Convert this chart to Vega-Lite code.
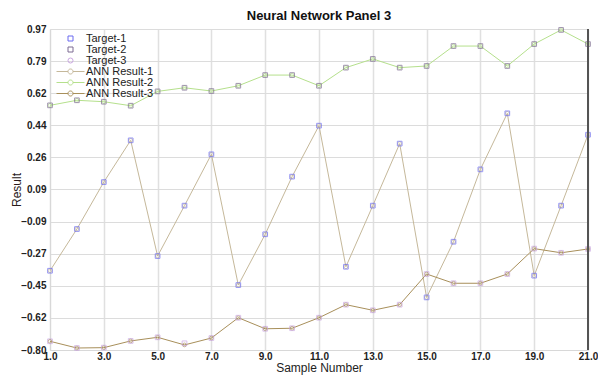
{
  "$schema": "https://vega.github.io/schema/vega-lite/v6.json",
  "width": 538,
  "height": 321,
  "autosize": "none",
  "padding": {"left": 50, "top": 29, "right": 10, "bottom": 26},
  "background": "white",
  "title": {"text": "Neural Network Panel 3", "fontSize": 13, "font": "Liberation Sans", "fontWeight": "bold", "color": "#111", "offset": 1},
  "config": {
    "view": {"stroke": null},
    "font": "Liberation Sans",
    "axis": {"labelFont": "Liberation Sans", "titleFont": "Liberation Sans"}
  },
  "data": {"values": [
    {"x": 1, "Target-1": -0.363, "Target-2": 0.549, "Target-3": -0.752, "ANN Result-1": -0.363, "ANN Result-2": 0.549, "ANN Result-3": -0.752},
    {"x": 2, "Target-1": -0.133, "Target-2": 0.577, "Target-3": -0.789, "ANN Result-1": -0.133, "ANN Result-2": 0.577, "ANN Result-3": -0.789},
    {"x": 3, "Target-1": 0.126, "Target-2": 0.569, "Target-3": -0.787, "ANN Result-1": 0.126, "ANN Result-2": 0.569, "ANN Result-3": -0.787},
    {"x": 4, "Target-1": 0.356, "Target-2": 0.547, "Target-3": -0.750, "ANN Result-1": 0.356, "ANN Result-2": 0.547, "ANN Result-3": -0.750},
    {"x": 5, "Target-1": -0.282, "Target-2": 0.626, "Target-3": -0.730, "ANN Result-1": -0.282, "ANN Result-2": 0.626, "ANN Result-3": -0.730},
    {"x": 6, "Target-1": -0.004, "Target-2": 0.646, "Target-3": -0.763, "ANN Result-1": -0.004, "ANN Result-2": 0.646, "ANN Result-3": -0.772},
    {"x": 7, "Target-1": 0.279, "Target-2": 0.628, "Target-3": -0.734, "ANN Result-1": 0.279, "ANN Result-2": 0.628, "ANN Result-3": -0.734},
    {"x": 8, "Target-1": -0.442, "Target-2": 0.657, "Target-3": -0.622, "ANN Result-1": -0.442, "ANN Result-2": 0.657, "ANN Result-3": -0.622},
    {"x": 9, "Target-1": -0.162, "Target-2": 0.716, "Target-3": -0.683, "ANN Result-1": -0.162, "ANN Result-2": 0.716, "ANN Result-3": -0.683},
    {"x": 10, "Target-1": 0.156, "Target-2": 0.716, "Target-3": -0.680, "ANN Result-1": 0.156, "ANN Result-2": 0.716, "ANN Result-3": -0.680},
    {"x": 11, "Target-1": 0.437, "Target-2": 0.657, "Target-3": -0.622, "ANN Result-1": 0.437, "ANN Result-2": 0.657, "ANN Result-3": -0.622},
    {"x": 12, "Target-1": -0.341, "Target-2": 0.757, "Target-3": -0.550, "ANN Result-1": -0.341, "ANN Result-2": 0.757, "ANN Result-3": -0.550},
    {"x": 13, "Target-1": -0.004, "Target-2": 0.805, "Target-3": -0.581, "ANN Result-1": -0.004, "ANN Result-2": 0.805, "ANN Result-3": -0.581},
    {"x": 14, "Target-1": 0.338, "Target-2": 0.757, "Target-3": -0.550, "ANN Result-1": 0.338, "ANN Result-2": 0.757, "ANN Result-3": -0.550},
    {"x": 15, "Target-1": -0.510, "Target-2": 0.766, "Target-3": -0.381, "ANN Result-1": -0.510, "ANN Result-2": 0.766, "ANN Result-3": -0.381},
    {"x": 16, "Target-1": -0.203, "Target-2": 0.876, "Target-3": -0.432, "ANN Result-1": -0.203, "ANN Result-2": 0.876, "ANN Result-3": -0.432},
    {"x": 17, "Target-1": 0.196, "Target-2": 0.876, "Target-3": -0.432, "ANN Result-1": 0.196, "ANN Result-2": 0.876, "ANN Result-3": -0.432},
    {"x": 18, "Target-1": 0.505, "Target-2": 0.766, "Target-3": -0.381, "ANN Result-1": 0.505, "ANN Result-2": 0.766, "ANN Result-3": -0.381},
    {"x": 19, "Target-1": -0.390, "Target-2": 0.887, "Target-3": -0.241, "ANN Result-1": -0.390, "ANN Result-2": 0.887, "ANN Result-3": -0.241},
    {"x": 20, "Target-1": -0.004, "Target-2": 0.965, "Target-3": -0.264, "ANN Result-1": -0.004, "ANN Result-2": 0.965, "ANN Result-3": -0.264},
    {"x": 21, "Target-1": 0.387, "Target-2": 0.887, "Target-3": -0.243, "ANN Result-1": 0.387, "ANN Result-2": 0.887, "ANN Result-3": -0.243}
  ]},
  "layer": [
    {
      "transform": [{"fold": ["ANN Result-1", "ANN Result-2", "ANN Result-3"], "as": ["k", "v"]}],
      "mark": {"type": "line", "strokeWidth": 1, "clip": true},
      "encoding": {
        "x": {"field": "x", "type": "quantitative",
          "scale": {"domain": [1, 21], "nice": false, "zero": false},
          "axis": {"values": [1, 3, 5, 7, 9, 11, 13, 15, 17, 19, 21], "tickCount": 11, "format": ".1f",
            "title": "Sample Number", "titleFontSize": 12, "titleFontWeight": "normal", "titleColor": "#222", "titlePadding": 1,
            "labelFontSize": 10, "labelFontWeight": "bold", "labelColor": "#222", "labelPadding": 1, "labelOverlap": false,
            "ticks": false, "domainColor": "#d8d8d8", "gridColor": "#e0e0e0", "gridWidth": 1.5, "labelFlush": false}},
        "y": {"field": "v", "type": "quantitative",
          "scale": {"domain": [-0.8, 0.97], "nice": false, "zero": false},
          "axis": {"values": [-0.8, -0.623, -0.446, -0.269, -0.092, 0.0851, 0.262, 0.439, 0.616, 0.793, 0.97], "tickCount": 11, "format": ".2f",
            "title": "Result", "titleFontSize": 12, "titleFontWeight": "normal", "titleColor": "#2a1a1a", "titlePadding": -3,
            "labelFontSize": 10, "labelFontWeight": "bold", "labelColor": "#222", "labelPadding": 4, "labelOverlap": false,
            "ticks": false, "domainColor": "#d8d8d8", "gridColor": "#dcdcdc", "gridWidth": 1}},
        "color": {"field": "k", "type": "nominal",
          "scale": {"domain": ["Target-1", "Target-2", "Target-3", "ANN Result-1", "ANN Result-2", "ANN Result-3"],
            "range": ["#6b6bf0", "#7d6a92", "#c9a6e0", "#c5b89a", "#b5e08c", "#a88f5a"]},
          "legend": {"orient": "none", "legendX": 15, "legendY": 4, "title": null,
            "labelFontSize": 11, "labelFont": "Liberation Sans", "labelColor": "#222",
            "symbolSize": 25, "symbolStrokeWidth": 1, "labelOffset": 10, "rowPadding": -1.5, "padding": 0,
            "encode": {"symbols": {"update": {
              "shape": {"signal": "indexof(datum.value, 'ANN') === 0 ? 'M-5.6,0L-1,0M1,0L5.6,0M1,0A1,1,0,1,1,-1,0A1,1,0,1,1,1,0' : (datum.value === 'Target-3' ? 'circle' : 'square')"},
              "fill": {"value": "transparent"},
              "stroke": {"scale": "color", "field": "value"},
              "strokeWidth": {"value": 1}
            }}}}}
      }
    },
    {
      "transform": [{"fold": ["ANN Result-1", "ANN Result-2", "ANN Result-3"], "as": ["k", "v"]}],
      "mark": {"type": "point", "shape": "circle", "filled": false, "size": 14, "strokeWidth": 1},
      "encoding": {
        "x": {"field": "x", "type": "quantitative"},
        "y": {"field": "v", "type": "quantitative"},
        "color": {"field": "k", "type": "nominal"}
      }
    },
    {
      "transform": [{"fold": ["Target-1", "Target-2", "Target-3"], "as": ["k", "v"]}],
      "mark": {"type": "point", "shape": "square", "filled": false, "size": 22, "strokeWidth": 1},
      "encoding": {
        "x": {"field": "x", "type": "quantitative"},
        "y": {"field": "v", "type": "quantitative"},
        "color": {"field": "k", "type": "nominal"}
      }
    },
    {
      "mark": {"type": "rule", "color": "#555", "strokeWidth": 1.5},
      "encoding": {"x": {"datum": 21}}
    }
  ]
}
